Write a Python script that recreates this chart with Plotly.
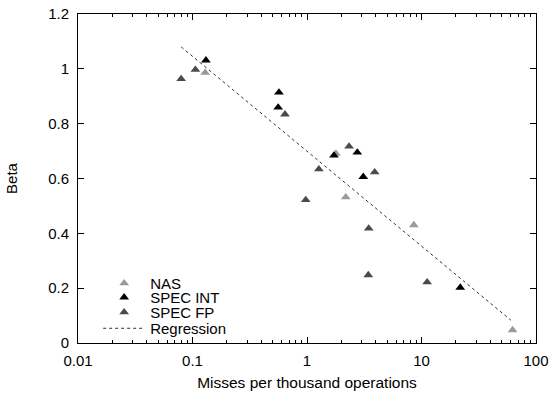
import plotly.graph_objects as go

# Data
nas_x = [0.129, 1.79, 2.18, 8.57, 62.4]
nas_y = [0.986, 0.691, 0.532, 0.430, 0.047]

specint_x = [0.131, 0.569, 0.56, 1.72, 2.75, 3.1, 21.8]
specint_y = [1.031, 0.914, 0.859, 0.684, 0.695, 0.606, 0.202]

specfp_x = [0.0796, 0.106, 0.642, 1.27, 2.33, 3.9, 0.975, 3.46, 3.43, 11.2]
specfp_y = [0.963, 0.997, 0.834, 0.634, 0.717, 0.623, 0.522, 0.418, 0.248, 0.222]

regression_x = [0.0796, 60.4]
regression_y = [1.080, 0.083]

x_tickvals = [0.01, 0.1, 1, 10, 100]
x_ticktext = ["0.01", "0.1", "1", "10", "100"]
y_tickvals = [0, 0.2, 0.4, 0.6, 0.8, 1.0, 1.2]
y_ticktext = ["0", "0.2", "0.4", "0.6", "0.8", "1", "1.2"]

FONT = "Liberation Sans, Arial, Helvetica, sans-serif"
FS = 15
msize = 8.5

fig = go.Figure()
fig.add_trace(go.Scatter(x=nas_x, y=nas_y, mode="markers", name="NAS", legend="legend",
                         marker=dict(symbol="triangle-up", size=msize, color="#9a9a9a",
                                     line=dict(width=0))))
fig.add_trace(go.Scatter(x=specint_x, y=specint_y, mode="markers", name="SPEC INT", legend="legend2",
                         marker=dict(symbol="triangle-up", size=msize, color="#000000",
                                     line=dict(width=0))))
fig.add_trace(go.Scatter(x=specfp_x, y=specfp_y, mode="markers", name="SPEC FP", legend="legend3",
                         marker=dict(symbol="triangle-up", size=msize, color="#4a4a4a",
                                     line=dict(width=0))))
fig.add_trace(go.Scatter(x=regression_x, y=regression_y, mode="lines", name="Regression", legend="legend4",
                         line=dict(color="#333333", width=1, dash="dot")))

axis_common = dict(
    showgrid=False, zeroline=False, showline=True, linecolor="black", linewidth=1,
    mirror="allticks", ticks="inside", ticklen=6, tickcolor="black", tickwidth=1,
    tickfont=dict(family=FONT, size=FS, color="black"), automargin=False,
)

fig.update_xaxes(type="log", range=[-2, 2], tickvals=x_tickvals, ticktext=x_ticktext,
                 minor=dict(ticks="inside", ticklen=3, tickcolor="black", dtick="D1", showgrid=False),
                 ticklabelstandoff=4,
                 title=dict(text="Misses per thousand operations",
                            font=dict(family=FONT, size=15.5, color="black"), standoff=9),
                 **axis_common)
fig.update_yaxes(range=[0, 1.2], tickvals=y_tickvals, ticktext=y_ticktext,
                 ticklabelstandoff=5,
                 title=dict(text="Beta", font=dict(family=FONT, size=FS, color="black"), standoff=26),
                 **axis_common)

def leg(ycenter):
    return dict(x=0.044, y=ycenter, xanchor="left", yanchor="middle",
                bgcolor="rgba(0,0,0,0)", font=dict(family=FONT, size=FS, color="black"),
                itemwidth=42)

fig.update_layout(
    width=550, height=393,
    margin=dict(l=78, r=14, t=14, b=50),
    paper_bgcolor="white", plot_bgcolor="white",
    font=dict(family=FONT, size=FS, color="black"),
    showlegend=True,
    legend=leg(0.181), legend2=leg(0.138), legend3=leg(0.093), legend4=leg(0.044),
)

fig.write_html("out.html")
